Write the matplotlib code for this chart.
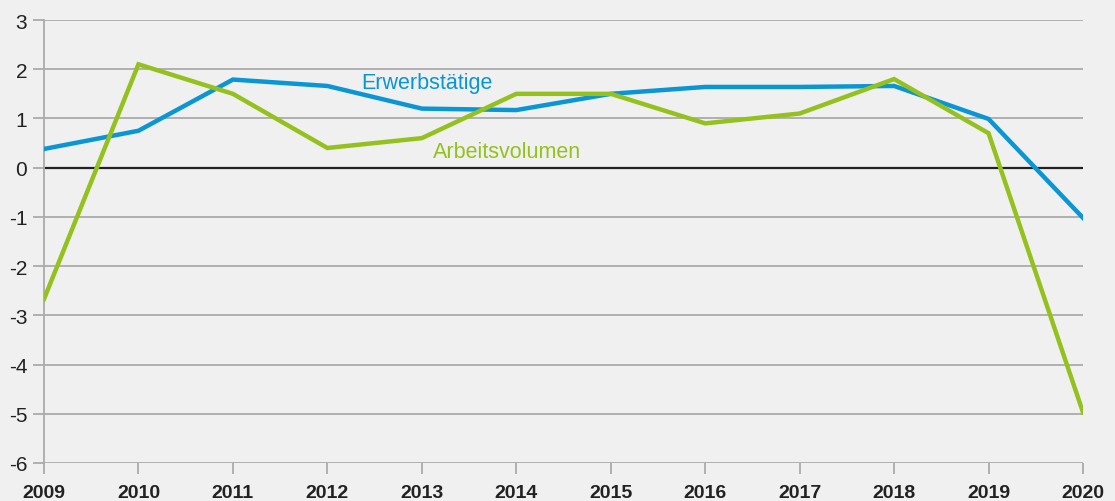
import matplotlib
matplotlib.use("Agg")
import matplotlib.pyplot as plt

years = [2009, 2010, 2011, 2012, 2013, 2014, 2015, 2016, 2017, 2018, 2019, 2020]
erwerbstaetige = [0.38, 0.75, 1.79, 1.66, 1.20, 1.17, 1.50, 1.64, 1.64, 1.66, 0.99, -1.02]
arbeitsvolumen = [-2.67, 2.10, 1.50, 0.40, 0.60, 1.50, 1.50, 0.90, 1.10, 1.80, 0.70, -4.97]
y_ticks = [-6, -5, -4, -3, -2, -1, 0, 1, 2, 3]

plt.rcParams['font.family'] = ['Liberation Sans', 'DejaVu Sans']
BG = '#f0f0f0'
BLUE = '#0a96d4'
GREEN = '#95c11f'
GRID = '#ababab'

fig = plt.figure(figsize=(11.15, 5.02), dpi=100, facecolor=BG)
ax = fig.add_axes([44/1115, 38/502, (1083-44)/1115, (464-21)/502])
ax.set_facecolor(BG)

for y in y_ticks:
    if y == 0:
        ax.axhline(y, color='#222222', lw=1.6, zorder=2)
    else:
        ax.axhline(y, color=GRID, lw=1.3, zorder=1)

ax.plot(years, erwerbstaetige, color=BLUE, lw=3.2, zorder=3, solid_joinstyle='miter')
ax.plot(years, arbeitsvolumen, color=GREEN, lw=3.2, zorder=4, solid_joinstyle='miter')

ax.text(2012.36, 1.74, 'Erwerbstätige', color=BLUE, fontsize=15.5, va='center', ha='left')
ax.text(2013.12, 0.32, 'Arbeitsvolumen', color=GREEN, fontsize=15.5, va='center', ha='left')

ax.set_xlim(2009, 2020)
ax.set_ylim(-6, 3)
ax.set_xticks(years)
ax.set_xticklabels([str(y) for y in years], fontweight='bold', fontsize=14, color='#222222')
ax.set_yticks(y_ticks)
ax.set_yticklabels([str(y) for y in y_ticks], fontsize=15, color='#222222')

for s in ['top', 'right', 'bottom']:
    ax.spines[s].set_visible(False)
ax.spines['left'].set_color(GRID)
ax.spines['left'].set_linewidth(1.3)
ax.tick_params(axis='both', color=GRID, width=1.3, length=8)
ax.tick_params(axis='y', pad=4)
ax.tick_params(axis='x', pad=7)

fig.savefig('out.png', dpi=100, facecolor=BG)
